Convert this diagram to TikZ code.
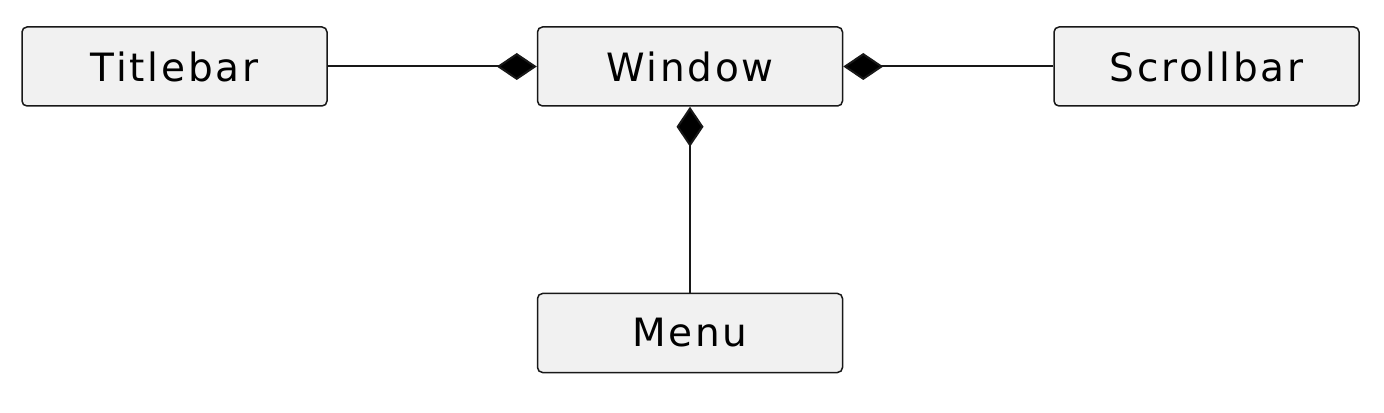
\documentclass[tikz,border=0pt]{standalone}
\usepackage{fontspec}
\setmainfont{DejaVu Sans}[LetterSpace=7]
\usetikzlibrary{positioning,arrows.meta}
\definecolor{boxfill}{HTML}{F1F1F1}
\definecolor{boxline}{HTML}{181818}

\begin{document}
\begin{tikzpicture}[node distance=258pt,on grid,
        classbox/.style={draw=boxline,fill=boxfill,rounded corners=2.5pt,line width=0.75pt,
            minimum width=152.5pt,minimum height=39.5pt,inner sep=0pt,
            font=\fontsize{19.5}{23}\selectfont},
        compose/.style={-{Diamond[length=20pt,width=13.5pt]},draw=boxline,line width=1pt}]
        \useasboundingbox (0,0) rectangle (692pt,206pt);
        \node[classbox] (window) at (345pt,172.75pt) {Window};
        \node[classbox] (titlebar) [left=257.75pt of window] {Titlebar};
        \node[classbox] (scrollbar) [right=258.25pt of window] {Scrollbar};
        \node[classbox] (menu) [below=133.25pt of window] {Menu};
        \path[compose]
            (titlebar) edge (window)
            (scrollbar) edge (window)
            (menu) edge (window);
    \end{tikzpicture}
\end{document}
